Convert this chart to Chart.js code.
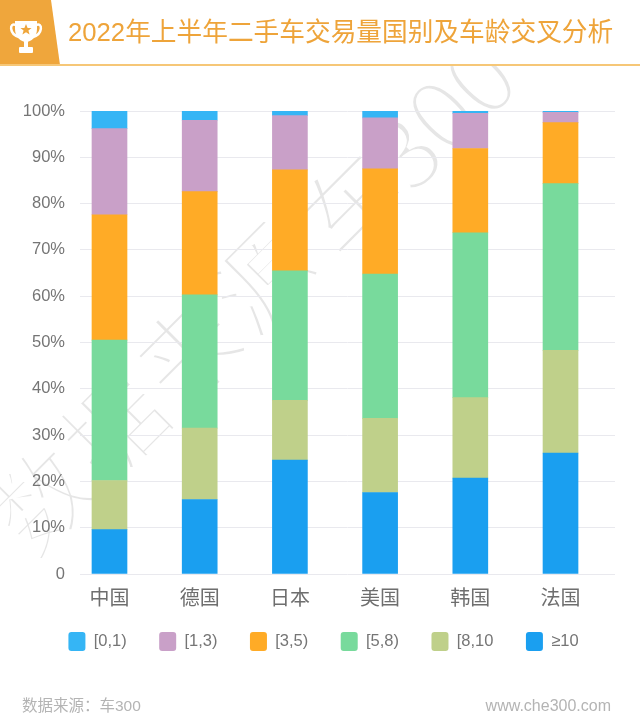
<!DOCTYPE html>
<html>
<head>
<meta charset="utf-8">
<script src="https://cdn.jsdelivr.net/npm/chart.js@4"></script>
<style>
    html, body { margin: 0; padding: 0; background: #fff; }
    body { width: 640px; height: 725px; position: relative; overflow: hidden; font-family: "Liberation Sans", "Noto Sans CJK SC", sans-serif; }
    #chart { position: absolute; left: 0; top: 0; }
    .badge { position: absolute; left: 0; top: 0; width: 60px; height: 65px; }
    .title { position: absolute; left: 68px; top: 14px; font-size: 25.7px; line-height: 36px; color: #eea43a; white-space: nowrap; }
    .rule { position: absolute; left: 0; top: 64px; width: 640px; height: 2px; background: #f6c777; }
    .foot { position: absolute; top: 696px; line-height: 20px; color: #b4b4b4; white-space: nowrap; }
    .markclip { position: absolute; left: 0; top: 66px; width: 640px; height: 659px; overflow: hidden; }
    .mark { position: absolute; left: 2px; top: 410px; font-family: "Noto Sans CJK SC", sans-serif; font-size: 100px; line-height: 110px; letter-spacing: 4px; white-space: nowrap; color: #e6e6e6; -webkit-text-stroke: 5px #fff; transform-origin: 0 50%; transform: rotate(-45deg); }
    .mark span { position: relative; top: 12px; left: -14px; letter-spacing: -3px; }
</style>
</head>
<body>
<div class="markclip"><div class="mark">数据来源 <span>车300</span></div></div>
<canvas id="chart" width="640" height="725"></canvas>
<svg class="badge" viewBox="0 0 60 65">
    <polygon points="0,0 51,0 60,65 0,65" fill="#efa63c"/>
    <path d="M16 25 C9 22 9 34 19 37 M36 25 C43 22 43 34 33 37" fill="none" stroke="#fff" stroke-width="2.5"/>
    <path d="M15 21 H37 V29 C37 37 31 42 26 42 C21 42 15 37 15 29 Z" fill="#fff"/>
    <rect x="24" y="41" width="4" height="7" fill="#fff"/>
    <rect x="19" y="47" width="14" height="6" rx="1" fill="#fff"/>
    <polygon points="26,24 27.6,28 31.6,28 28.4,30.6 29.6,34.6 26,32.2 22.4,34.6 23.6,30.6 20.4,28 24.4,28" fill="#efa63c"/>
</svg>
<div class="title">2022年上半年二手车交易量国别及车龄交叉分析</div>
<div class="rule"></div>
<div class="foot" style="left:22px; font-size:15.5px">数据来源：车300</div>
<div class="foot" style="right:29px; font-size:16px">www.che300.com</div>
<script>
const countries = ['中国', '德国', '日本', '美国', '韩国', '法国'];
const ageLabels = ['≥10', '[8,10', '[5,8)', '[3,5)', '[1,3)', '[0,1)'];
const ageColors = ['#1a9ff0', '#bfd08a', '#78da9c', '#ffab26', '#c9a0c8', '#35b5f5'];

const over10 = [9.6, 16.1, 24.6, 17.6, 20.7, 26.1];
const age8to10 = [10.6, 15.4, 12.9, 16.0, 17.4, 22.2];
const age5to8 = [30.3, 28.8, 28.0, 31.2, 35.6, 36.0];
const age3to5 = [27.1, 22.3, 21.8, 22.7, 18.2, 13.2];
const age1to3 = [18.6, 15.4, 11.7, 11.0, 7.6, 2.2];
const age0to1 = [3.8, 2.0, 1.0, 1.5, 0.5, 0.3];

const series = [over10, age8to10, age5to8, age3to5, age1to3, age0to1];
const tickFont = '"Liberation Sans", "Noto Sans CJK SC", sans-serif';

// the legend sits off the plot centre and closer to the axis than Chart.js puts it
const moveLegend = {
    id: 'moveLegend',
    afterLayout(chart) {
        const legend = chart.legend;
        legend.left += 16;
        legend.right += 16;
        legend.top -= 26.5;
        legend.bottom -= 26.5;
    }
};

new Chart(document.getElementById('chart').getContext('2d'), {
    type: 'bar',
    plugins: [moveLegend],
    data: {
        datasets: series.map((values, i) => ({
            label: ageLabels[i],
            data: values.map((v, j) => ({ x: j, y: v })),
            backgroundColor: ageColors[i],
            borderWidth: 0,
            barThickness: 35
        }))
    },
    options: {
        responsive: false,
        animation: false,
        layout: { padding: { top: 111, right: 25, bottom: 37.5, left: 0 } },
        scales: {
            x: {
                type: 'linear',
                offset: false,
                stacked: true,
                min: -0.327,
                max: 5.604,
                grid: { display: false },
                border: { display: false },
                afterBuildTicks: scale => { scale.ticks = countries.map((_, i) => ({ value: i })); },
                afterFit: scale => { scale.height = 52; },
                ticks: {
                    autoSkip: false,
                    maxRotation: 0,
                    padding: 5,
                    color: '#6e6e6e',
                    font: { family: tickFont, size: 20 },
                    callback: value => countries[value]
                }
            },
            y: {
                stacked: true,
                min: 0,
                max: 100,
                afterFit: scale => { scale.width = 80; },
                grid: { color: '#e9e9ee', lineWidth: 1, drawTicks: false },
                border: { display: false },
                ticks: {
                    stepSize: 10,
                    padding: 15,
                    color: '#757575',
                    font: { family: tickFont, size: 16.5 },
                    callback: value => value === 0 ? '0' : value + '%'
                }
            }
        },
        plugins: {
            tooltip: { enabled: false },
            legend: {
                position: 'bottom',
                reverse: true,
                labels: {
                    boxWidth: 17,
                    boxHeight: 19,
                    padding: 32.5,
                    color: '#757575',
                    font: { family: tickFont, size: 16.5 },
                    useBorderRadius: true,
                    borderRadius: 3
                }
            }
        }
    }
});
</script>
</body>
</html>
